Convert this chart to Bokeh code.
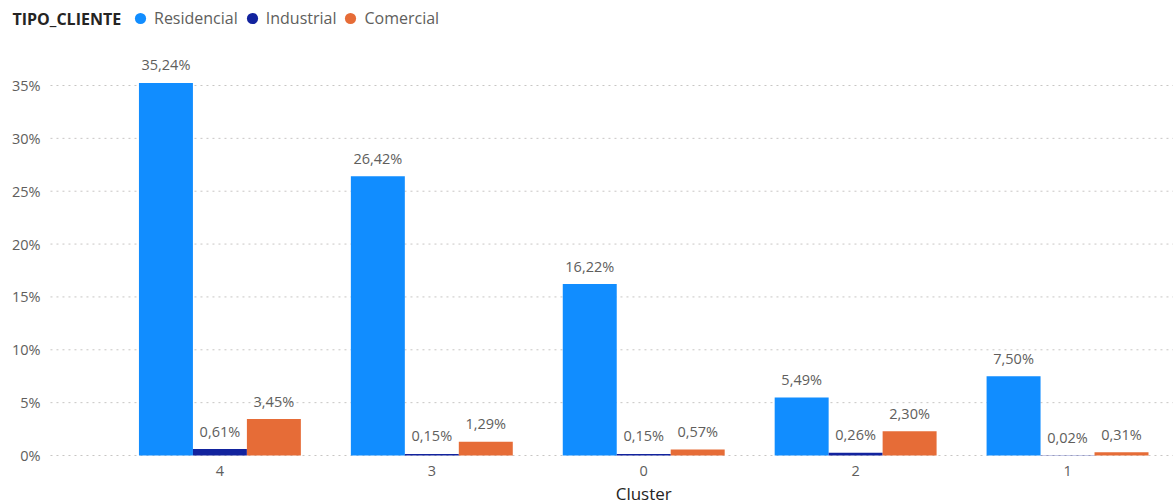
from bokeh.plotting import figure
from bokeh.models import (ColumnDataSource, Legend, LegendItem, Range1d, Label)
from bokeh.transform import dodge
from bokeh.embed import file_html
from bokeh.resources import INLINE
from bokeh.core.properties import value

clusters = ["4", "3", "0", "2", "1"]
series = ["Residencial", "Industrial", "Comercial"]
residencial = [35.24, 26.42, 16.22, 5.49, 7.50]
industrial = [0.61, 0.15, 0.15, 0.26, 0.02]
comercial = [3.45, 1.29, 0.57, 2.30, 0.31]
colors = ["#118DFF", "#12239E", "#E66C37"]
y_ticks = [0, 5, 10, 15, 20, 25, 30, 35]
y_tick_labels = [f"{t}%" for t in y_ticks]
legend_title = "TIPO_CLIENTE"
x_title = "Cluster"

FONT = "Open Sans"
GREY = "#605E5C"
DARK = "#252423"
BAR_W = 0.2547
X0, X1 = -1.0354, 4.5
Y0, Y1 = -4.635, 43.04
GRID_X0 = X0 + 50 / 212.0

p = figure(width=1173, height=504, output_backend="svg", toolbar_location=None,
           x_range=Range1d(X0, X1), y_range=Range1d(Y0, Y1),
           min_border=0)
p.outline_line_color = None
p.background_fill_color = "white"
p.border_fill_color = "white"
p.xaxis.visible = False
p.yaxis.visible = False
p.xgrid.visible = False
p.ygrid.visible = False

# dotted horizontal gridlines at the y ticks
p.segment(x0=GRID_X0, x1=X1, y0=y_ticks, y1=y_ticks, line_color="#C8C6C4",
          line_dash="2 4", line_width=1)

# y tick labels
p.text(x=X0, y=y_ticks, text=y_tick_labels, x_offset=40, text_align="right",
       text_baseline="middle", text_font=value(FONT), text_font_size="14.5px",
       text_color=GREY)

xs = list(range(len(clusters)))
offsets = [-BAR_W, 0.0, BAR_W]
legend_items = []
for name, vals, col, off in zip(series, [residencial, industrial, comercial], colors, offsets):
    src = ColumnDataSource(dict(x=xs, top=vals,
                                label=[f"{v:.2f}".replace(".", ",") + "%" for v in vals]))
    p.vbar(x=dodge("x", off, range=p.x_range), top="top", bottom=0, width=BAR_W,
           source=src, fill_color=col, line_color=None)
    p.text(x=dodge("x", off, range=p.x_range), y="top", text="label", source=src,
           text_align="center", text_baseline="alphabetic", y_offset=-18,
           text_font=value(FONT), text_font_size="14.5px", text_color=GREY)
    r = p.scatter(x=[float("nan")], y=[float("nan")], marker="circle", size=11,
                  fill_color=col, line_color=None)
    legend_items.append(LegendItem(label=name, renderers=[r]))

# x tick labels (categories)
p.text(x=xs, y=[0] * len(xs), text=clusters, y_offset=15, text_align="center",
       text_baseline="middle", text_font=value(FONT), text_font_size="14.5px",
       text_color=GREY)
# x axis title
p.add_layout(Label(x=(xs[0] + xs[-1]) / 2, y=0, y_offset=-38, text=x_title,
                   text_align="center", text_baseline="middle", text_font=FONT,
                   text_font_size="17px", text_color=DARK))

legend = Legend(items=legend_items, orientation="horizontal", location=(126, 472),
                border_line_color=None, background_fill_alpha=0,
                label_text_font=FONT, label_text_font_size="16px", label_text_color=GREY,
                glyph_width=28, glyph_height=28, label_standoff=-4, spacing=-3,
                padding=3, margin=0, label_height=22)
p.add_layout(legend)

p.add_layout(Label(x=12, y=504 - 18, x_units="screen", y_units="screen", text=legend_title,
                   text_font=FONT, text_font_size="16px", text_font_style="bold",
                   text_color=DARK, text_baseline="middle"))

open("out.html", "w").write(file_html(p, INLINE))
